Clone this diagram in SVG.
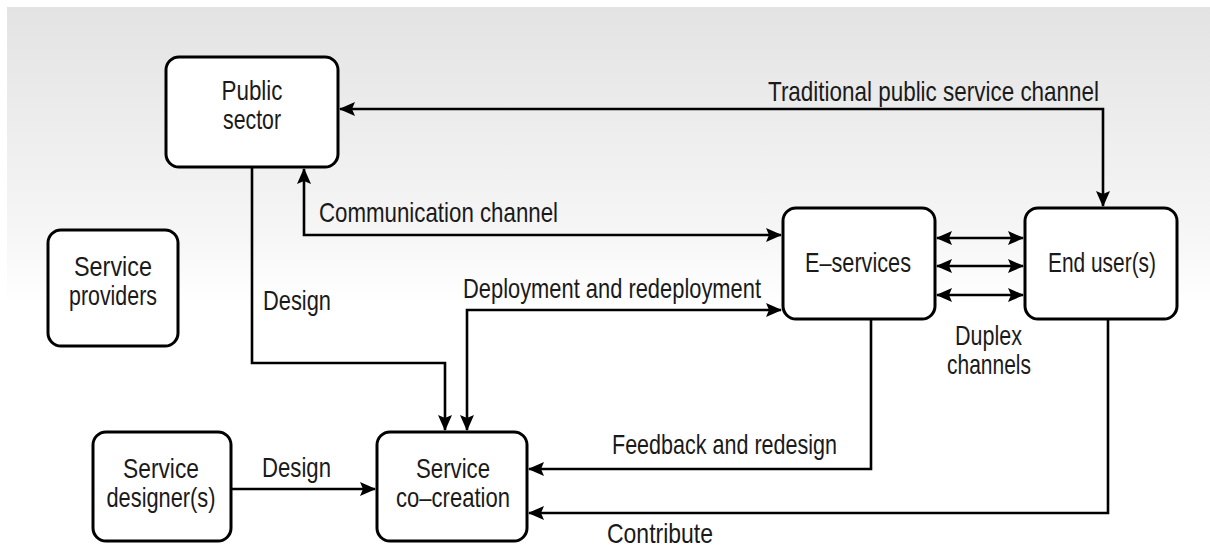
<svg xmlns="http://www.w3.org/2000/svg" width="1210" height="550" viewBox="0 0 1210 550">
  <defs>
    <linearGradient id="bg" x1="0" y1="0" x2="0" y2="1">
      <stop offset="0" stop-color="#e3e3e3"/>
      <stop offset="0.42" stop-color="#f6f6f6"/>
      <stop offset="0.55" stop-color="#ffffff"/>
      <stop offset="1" stop-color="#ffffff"/>
    </linearGradient>
    <marker id="arr" viewBox="0 0 16 14" markerUnits="userSpaceOnUse" markerWidth="16" markerHeight="14" refX="15" refY="7" orient="auto-start-reverse">
      <path d="M0,0 L16,7 L0,14 L3,7 z" fill="#000"/>
    </marker>
    <style>
      .node rect { fill: #fff; stroke: #000; stroke-width: 3; }
      .node text, .lbl { font-family: "Liberation Sans", Arial, sans-serif; font-size: 28px; fill: #1a1a1a; }
      .node text { text-anchor: middle; }
      .c { fill: none; stroke: #000; stroke-width: 2.6; }
      .e { marker-end: url(#arr); }
      .b { marker-start: url(#arr); marker-end: url(#arr); }
    </style>
  </defs>
  <rect x="0" y="0" width="1210" height="550" fill="#fff"/>
  <rect x="7" y="7" width="1203" height="543" fill="url(#bg)"/>

  <g id="connectors">
    <path class="c b" d="M340 109 H1103 V206"/>
    <path class="c b" d="M304 169 V235 H781"/>
    <path class="c e" d="M252 167 V363 H445 V430"/>
    <path class="c b" d="M467 430 V310 H781"/>
    <path class="c b" d="M937 238 H1023"/>
    <path class="c b" d="M937 266 H1023"/>
    <path class="c b" d="M937 295 H1023"/>
    <path class="c e" d="M871 319 V469 H529"/>
    <path class="c e" d="M1108 319 V513 H529"/>
    <path class="c e" d="M231 489 H375"/>
  </g>

  <g id="labels">
    <text class="lbl" x="768" y="101" textLength="331" lengthAdjust="spacingAndGlyphs">Traditional public service channel</text>
    <text class="lbl" x="319" y="222" textLength="239" lengthAdjust="spacingAndGlyphs">Communication channel</text>
    <text class="lbl" x="263" y="310" textLength="68" lengthAdjust="spacingAndGlyphs">Design</text>
    <text class="lbl" x="463" y="298" textLength="298" lengthAdjust="spacingAndGlyphs">Deployment and redeployment</text>
    <text class="lbl" x="955" y="345" textLength="67" lengthAdjust="spacingAndGlyphs">Duplex</text>
    <text class="lbl" x="947" y="374" textLength="84" lengthAdjust="spacingAndGlyphs">channels</text>
    <text class="lbl" x="612" y="454" textLength="225" lengthAdjust="spacingAndGlyphs">Feedback and redesign</text>
    <text class="lbl" x="607" y="543" textLength="106" lengthAdjust="spacingAndGlyphs">Contribute</text>
    <text class="lbl" x="262" y="477" textLength="69" lengthAdjust="spacingAndGlyphs">Design</text>
  </g>

  <g id="public-sector" class="node">
    <rect x="166" y="57" width="172" height="110" rx="13"/>
    <text x="252" y="100" textLength="61" lengthAdjust="spacingAndGlyphs">Public</text>
    <text x="252" y="129" textLength="58" lengthAdjust="spacingAndGlyphs">sector</text>
  </g>
  <g id="service-providers" class="node">
    <rect x="48" y="230" width="130" height="116" rx="13"/>
    <text x="113" y="276" textLength="78" lengthAdjust="spacingAndGlyphs">Service</text>
    <text x="113" y="305" textLength="88" lengthAdjust="spacingAndGlyphs">providers</text>
  </g>
  <g id="e-services" class="node">
    <rect x="783" y="208" width="152" height="111" rx="13"/>
    <text x="858" y="272" textLength="106" lengthAdjust="spacingAndGlyphs">E–services</text>
  </g>
  <g id="end-users" class="node">
    <rect x="1025" y="208" width="152" height="111" rx="13"/>
    <text x="1102" y="272" textLength="108" lengthAdjust="spacingAndGlyphs">End user(s)</text>
  </g>
  <g id="service-designers" class="node">
    <rect x="93" y="432" width="138" height="109" rx="13"/>
    <text x="161" y="478" textLength="76" lengthAdjust="spacingAndGlyphs">Service</text>
    <text x="161" y="507" textLength="109" lengthAdjust="spacingAndGlyphs">designer(s)</text>
  </g>
  <g id="service-co-creation" class="node">
    <rect x="377" y="432" width="150" height="109" rx="13"/>
    <text x="453" y="478" textLength="74" lengthAdjust="spacingAndGlyphs">Service</text>
    <text x="453" y="507" textLength="114" lengthAdjust="spacingAndGlyphs">co–creation</text>
  </g>
</svg>
